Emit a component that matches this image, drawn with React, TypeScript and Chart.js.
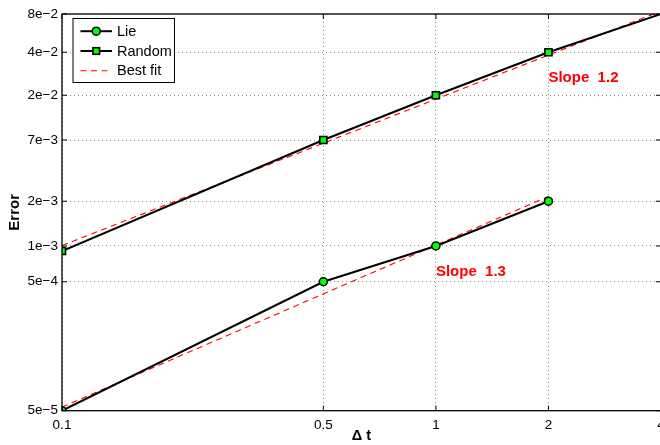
import { useEffect, useRef } from 'react';
import { Chart, registerables } from 'chart.js';

Chart.register(...registerables);

// ---- data ----
const stepSizes = [0.1, 0.5, 1, 2, 4];
const lieErrors = [5e-5, 5.5e-4, 1.07e-3, 2.46e-3];
const randomErrors = [9.75e-4, 7.68e-3, 1.765e-2, 3.93e-2, 8e-2];
const lieFitX = [0.1, 2];
const lieFitY = [5.35e-5, 2.69e-3];
const randomFitX = [0.1, 4];
const randomFitY = [1.08e-3, 8.45e-2];

const xTicks = [0.1, 0.5, 1, 2, 4];
const xTickLabels = ['0.1', '0.5', '1', '2', '4'];
const yTicks = [5e-5, 5.5e-4, 1.07e-3, 2.46e-3, 7.68e-3, 1.765e-2, 3.93e-2, 8e-2];
const yTickLabels = ['5e\u22125', '5e\u22124', '1e\u22123', '2e\u22123', '7e\u22123', '2e\u22122', '4e\u22122', '8e\u22122'];

const slopeTexts = ['Slope  1.2', 'Slope  1.3'];
const slopeX = [2, 1];
const slopeY = [2.45e-2, 6.6e-4];

const legendLabels = ['Lie', 'Random', 'Best fit'];

const FONT = '"Liberation Sans", Arial, Helvetica, sans-serif';

function nearestLabel(v: number, ticks: number[], labels: string[]) {
  let best = 0;
  let bd = Infinity;
  ticks.forEach((t, i) => {
    const d = Math.abs(Math.log(t) - Math.log(v));
    if (d < bd) { bd = d; best = i; }
  });
  return bd < 0.01 ? labels[best] : '';
}

const decorPlugin = {
  id: 'matlabDecor',
  afterDraw(chart: any) {
    const { ctx, chartArea: a, scales } = chart;
    const xs = scales.x;
    const ys = scales.y;
    ctx.save();
    // inward tick marks
    ctx.strokeStyle = '#000';
    ctx.lineWidth = 1;
    ctx.setLineDash([]);
    ctx.beginPath();
    for (const v of yTicks) {
      const py = ys.getPixelForValue(v);
      ctx.moveTo(a.left, py); ctx.lineTo(a.left + 5, py);
      ctx.moveTo(a.right, py); ctx.lineTo(a.right - 5, py);
    }
    for (const v of xTicks) {
      const px = xs.getPixelForValue(v);
      ctx.moveTo(px, a.bottom); ctx.lineTo(px, a.bottom - 5);
      ctx.moveTo(px, a.top); ctx.lineTo(px, a.top + 5);
    }
    ctx.stroke();
    // box
    ctx.lineWidth = 1.3;
    ctx.strokeRect(a.left, a.top, a.right - a.left, a.bottom - a.top);

    // slope annotations
    ctx.fillStyle = '#ff0000';
    ctx.font = 'bold 15px ' + FONT;
    ctx.textBaseline = 'middle';
    ctx.textAlign = 'left';
    slopeTexts.forEach((t, i) => {
      ctx.fillText(t, xs.getPixelForValue(slopeX[i]), ys.getPixelForValue(slopeY[i]));
    });

    // legend
    const lx = a.left + 11;
    const ly = a.top + 4.5;
    const lw = 101.5;
    const lh = 64;
    ctx.fillStyle = '#fff';
    ctx.fillRect(lx, ly, lw, lh);
    ctx.strokeStyle = '#000';
    ctx.lineWidth = 1;
    ctx.strokeRect(lx, ly, lw, lh);
    const ds = chart.data.datasets;
    const entries = [ds[0], ds[1], ds[2]];
    entries.forEach((d: any, i: number) => {
      const cy = ly + 12.7 + i * 19.8;
      const x0 = lx + 7.5;
      const x1 = lx + 39;
      ctx.strokeStyle = d.borderColor;
      ctx.lineWidth = d.borderWidth;
      ctx.setLineDash(d.borderDash || []);
      ctx.beginPath();
      ctx.moveTo(x0, cy); ctx.lineTo(x1, cy);
      ctx.stroke();
      ctx.setLineDash([]);
      const mx = (x0 + x1) / 2;
      if (d.pointStyle === 'circle') {
        ctx.fillStyle = d.pointBackgroundColor;
        ctx.strokeStyle = d.pointBorderColor;
        ctx.lineWidth = d.pointBorderWidth;
        ctx.beginPath();
        ctx.arc(mx, cy, 4, 0, Math.PI * 2);
        ctx.fill(); ctx.stroke();
      } else if (d.pointStyle === 'rect') {
        ctx.fillStyle = d.pointBackgroundColor;
        ctx.strokeStyle = d.pointBorderColor;
        ctx.lineWidth = d.pointBorderWidth;
        const s = 3.3;
        ctx.fillRect(mx - s, cy - s, 2 * s, 2 * s);
        ctx.strokeRect(mx - s, cy - s, 2 * s, 2 * s);
      }
      ctx.fillStyle = '#000';
      ctx.font = '14.5px ' + FONT;
      ctx.textBaseline = 'middle';
      ctx.fillText(legendLabels[i], lx + 44, cy + 0.5);
    });
    ctx.restore();
  },
};

export default function App() {
  const ref = useRef<HTMLCanvasElement | null>(null);
  useEffect(() => {
    if (!ref.current) return;
    document.body.style.overflow = 'hidden';
    const chart = new Chart(ref.current, {
      type: 'line',
      data: {
        datasets: [
          {
            label: 'Lie',
            data: lieErrors.map((v, i) => ({ x: stepSizes[i], y: v })),
            borderColor: '#000',
            borderWidth: 2,
            pointStyle: 'circle',
            pointRadius: 4,
            pointBackgroundColor: '#00ff00',
            pointBorderColor: '#000',
            pointBorderWidth: 1.5,
            order: 1,
          } as any,
          {
            label: 'Random',
            data: randomErrors.map((v, i) => ({ x: stepSizes[i], y: v })),
            borderColor: '#000',
            borderWidth: 2,
            pointStyle: 'rect',
            pointRadius: [5, 5, 5, 5, 0],
            pointBackgroundColor: '#00ff00',
            pointBorderColor: '#000',
            pointBorderWidth: 1.6,
            order: 1,
          } as any,
          {
            label: 'Best fit',
            data: lieFitY.map((v, i) => ({ x: lieFitX[i], y: v })),
            borderColor: '#ff0000',
            borderWidth: 1.1,
            borderDash: [6, 4.5],
            pointRadius: 0,
            order: 2,
          } as any,
          {
            label: 'Best fit',
            data: randomFitY.map((v, i) => ({ x: randomFitX[i], y: v })),
            borderColor: '#ff0000',
            borderWidth: 1.1,
            borderDash: [6, 4.5],
            pointRadius: 0,
            order: 2,
          } as any,
        ],
      },
      options: {
        animation: false,
        responsive: true,
        maintainAspectRatio: false,
        devicePixelRatio: 1,
        layout: { padding: { left: 0, top: 14, right: 19, bottom: 0 } },
        plugins: {
          legend: { display: false },
          tooltip: { enabled: false },
        },
        elements: { line: { tension: 0 } },
        scales: {
          x: {
            type: 'logarithmic',
            min: 0.1,
            max: 4,
            afterBuildTicks: (s: any) => { s.ticks = xTicks.map((v) => ({ value: v })); },
            afterFit: (s: any) => { s.height = 34.3; },
            ticks: {
              autoSkip: false,
              maxRotation: 0,
              padding: 6,
              color: '#000',
              font: { size: 13.5, family: FONT },
              callback: (v: any) => nearestLabel(Number(v), xTicks, xTickLabels),
            },
            grid: { color: '#8a8a8a', lineWidth: 1, drawTicks: false },
            border: { display: false, dash: [1, 3] },
            title: {
              display: true,
              text: '\u0394 t',
              color: '#000',
              font: { size: 14.5, weight: 'bold', family: FONT },
              padding: { top: 0, bottom: 0 },
            },
          },
          y: {
            type: 'logarithmic',
            min: 5e-5,
            max: 8e-2,
            afterBuildTicks: (s: any) => { s.ticks = yTicks.map((v) => ({ value: v })); },
            afterFit: (s: any) => { s.width = 62; },
            ticks: {
              autoSkip: false,
              padding: 4,
              color: '#000',
              font: { size: 13.5, family: FONT },
              callback: (v: any) => nearestLabel(Number(v), yTicks, yTickLabels),
            },
            grid: { color: '#8a8a8a', lineWidth: 1, drawTicks: false },
            border: { display: false, dash: [1, 3] },
            title: {
              display: true,
              text: 'Error',
              color: '#000',
              font: { size: 15, weight: 'bold', family: FONT },
              padding: { top: 6, bottom: 0 },
            },
          },
        },
      } as any,
      plugins: [decorPlugin],
    });
    return () => chart.destroy();
  }, []);

  return (
    <div style={{ position: 'fixed', left: 0, top: 0, width: 680, height: '100vh', background: '#fff' }}>
      <canvas ref={ref} />
    </div>
  );
}
